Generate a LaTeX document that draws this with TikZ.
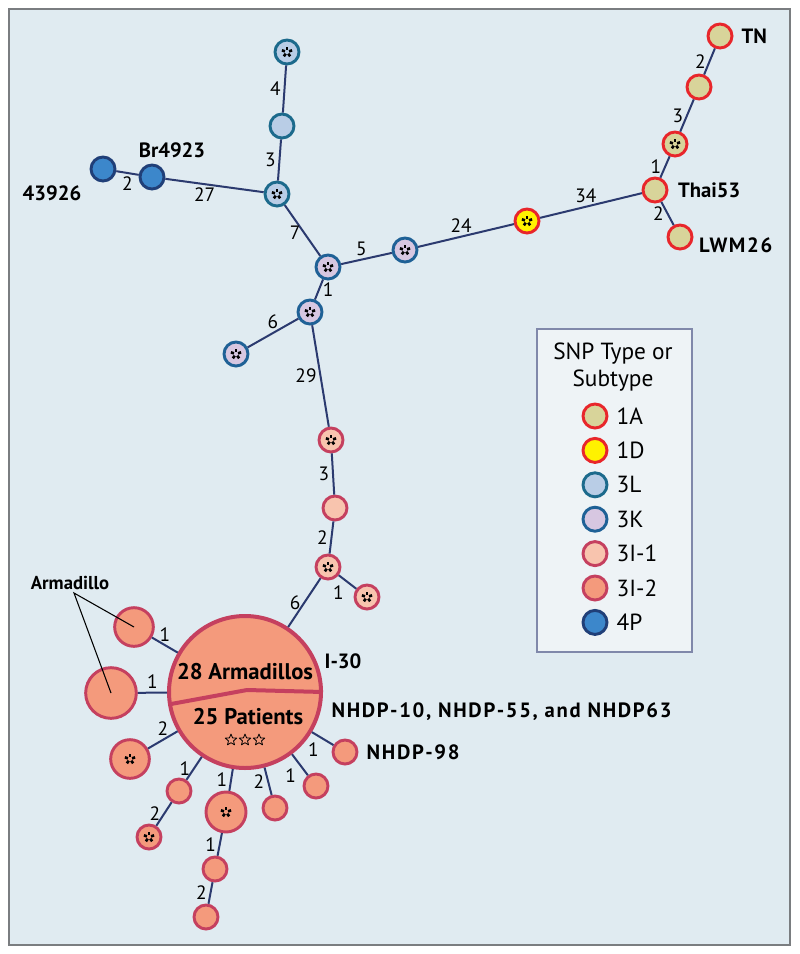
\documentclass[tikz,border=0pt]{standalone}
\usepackage{fontspec}
\setmainfont{PT Sans}
\usepackage{xcolor}
\usetikzlibrary{positioning}

\definecolor{bgblue}{HTML}{E0EBF1}
\definecolor{framegray}{HTML}{7A7D80}
\definecolor{linknavy}{HTML}{2B3A6F}
\definecolor{legfill}{HTML}{EEF3F6}
\definecolor{legline}{HTML}{8088AA}
\definecolor{oneAfill}{HTML}{D8D49A}
\definecolor{oneline}{HTML}{E8262B}
\definecolor{oneDfill}{HTML}{FFF200}
\definecolor{threeLfill}{HTML}{B9CDE6}
\definecolor{threeLline}{HTML}{1C6A8C}
\definecolor{threeKfill}{HTML}{D7C7E1}
\definecolor{threeKline}{HTML}{1F6196}
\definecolor{threeIline}{HTML}{C5405F}
\definecolor{threeIafill}{HTML}{F8C4AE}
\definecolor{threeIbfill}{HTML}{F49A7C}
\definecolor{fourPfill}{HTML}{3C87CB}
\definecolor{fourPline}{HTML}{203F78}

\tikzset{
    snp/.style={circle, draw, line width=2.2pt, inner sep=0pt, minimum size=18pt},
    t1A/.style={snp, fill=oneAfill, draw=oneline},
    t1D/.style={snp, fill=oneDfill, draw=oneline},
    t3L/.style={snp, fill=threeLfill, draw=threeLline},
    t3K/.style={snp, fill=threeKfill, draw=threeKline},
    t3Ia/.style={snp, fill=threeIafill, draw=threeIline},
    t3Ib/.style={snp, fill=threeIbfill, draw=threeIline},
    t4P/.style={snp, fill=fourPfill, draw=fourPline},
    flw/.style={path picture={
        \foreach \a in {18,90,162,234,306}
            \draw[black, line width=2pt]
                ([shift={(\a:1.6pt)}]path picture bounding box.center) --
                ([shift={(\a:4pt)}]path picture bounding box.center);}},
    patstar/.pic={
        \draw[black, line width=0.6pt, line join=round]
            (90:4.5pt) -- (126:2pt) -- (162:4.5pt) -- (198:2pt) -- (234:4.5pt) --
            (270:2pt) -- (306:4.5pt) -- (342:2pt) -- (18:4.5pt) -- (54:2pt) -- cycle;},
    link/.style={draw=linknavy, line width=1.5pt},
    lbl/.style={font=\fontsize{14.5}{15}\selectfont, inner sep=2.2pt},
    strain/.style={font=\fontsize{15.5}{17}\selectfont\bfseries, inner sep=1pt},
    widestrain/.style={strain, font=\fontsize{15.5}{17}\selectfont\bfseries\addfontfeature{LetterSpace=8}},
    hubtext/.style={font=\fontsize{17}{19}\selectfont\bfseries, inner sep=0pt},
    leglbl/.style={font=\fontsize{17.5}{20}\selectfont, inner sep=0pt},
    pointer/.style={draw=black, line width=0.8pt}
}

\begin{document}
\begin{tikzpicture}[x=0.75pt, y=-0.75pt]
    \useasboundingbox (0,0) rectangle (800,954);
    \fill[white] (0,0) rectangle (800,954);
    \fill[bgblue] (9,9) rectangle (790,945);
    \draw[framegray, line width=1.5pt] (9,9) rectangle (790,945);

    % type 4P and 3L
    \node[t4P] (p43926) at (103,169) {};
    \node[t4P] (br) at (152,177) {};
    \node[t3L, flw] (l1) at (287,52) {};
    \node[t3L] (l2) at (282,126) {};
    \node[t3L, flw] (l3) at (277,194) {};
    % type 3K
    \node[t3K, flw] (k1) at (328,267) {};
    \node[t3K, flw] (k2) at (405,250) {};
    \node[t3K, flw] (k3) at (310,312) {};
    \node[t3K, flw] (k4) at (236,354) {};
    % type 1D and 1A
    \node[t1D, flw] (d1) at (527,221) {};
    \node[t1A] (thai) at (655,190) {};
    \node[t1A, flw] (a1) at (675,144) {};
    \node[t1A] (a2) at (699,87) {};
    \node[t1A] (tn) at (720,36) {};
    \node[t1A] (lwm) at (680,237) {};
    % type 3I-1
    \node[t3Ia, flw] (i1) at (331,440) {};
    \node[t3Ia] (i2) at (335,508) {};
    \node[t3Ia, flw] (i3) at (328,567) {};
    \node[t3Ia, flw] (i4) at (367,597) {};
    % type 3I-2
    \node[t3Ib, minimum size=114pt, line width=3pt] (hub) at (245,692) {};
    \node[t3Ib, minimum size=29pt] (arm1) at (134,627) {};
    \node[t3Ib, minimum size=38pt] (arm2) at (111,693) {};
    \node[t3Ib, flw, minimum size=29pt] (c3) at (130,759) {};
    \node[t3Ib] (c4) at (179,791) {};
    \node[t3Ib, flw] (c5) at (149,837) {};
    \node[t3Ib, flw, minimum size=30pt] (c6) at (226,812) {};
    \node[t3Ib] (c7) at (215,869) {};
    \node[t3Ib] (c8) at (206,917) {};
    \node[t3Ib] (c9) at (275,808) {};
    \node[t3Ib] (c10) at (316,786) {};
    \node[t3Ib] (n98) at (345,752) {};

    \draw[link]
    (p43926) edge node[lbl, below] {2} (br)
    (br) edge node[lbl, below, pos=.4] {27} (l3)
    (l1) edge node[lbl, left] {4} (l2)
    (l2) edge node[lbl, left] {3} (l3)
    (l3) edge node[lbl, left, pos=.55] {7} (k1)
    (k1) edge node[lbl, above, pos=.4] {5} (k2)
    (k1) edge node[lbl, right] {1} (k3)
    (k2) edge node[lbl, above, pos=.45] {24} (d1)
    (d1) edge node[lbl, above, pos=.45] {34} (thai)
    (thai) edge node[lbl, left] {1} (a1)
    (a1) edge node[lbl, left] {3} (a2)
    (a2) edge node[lbl, left] {2} (tn)
    (thai) edge node[lbl, left] {2} (lwm)
    (k3) edge node[lbl, above] {6} (k4)
    (k3) edge node[lbl, left] {29} (i1)
    (i1) edge node[lbl, left] {3} (i2)
    (i2) edge node[lbl, left] {2} (i3)
    (i3) edge node[lbl, left] {6} (hub)
    (i3) edge node[lbl, below left] {1} (i4)
    (hub) edge node[lbl, above] {1} (arm1)
    (hub) edge node[lbl, above] {1} (arm2)
    (hub) edge node[lbl, above] {2} (c3)
    (hub) edge node[lbl, left] {1} (c4)
    (c4) edge node[lbl, left] {2} (c5)
    (hub) edge node[lbl, left] {1} (c6)
    (c6) edge node[lbl, left] {1} (c7)
    (c7) edge node[lbl, left] {2} (c8)
    (hub) edge node[lbl, left] {2} (c9)
    (hub) edge node[lbl, below left] {1} (c10)
    (hub) edge node[lbl, below left] {1} (n98);

    % the big I-30 circle
    \draw[draw=threeIline, line width=3pt]
        ([shift={(-74,12)}]hub.center) -- ([shift={(2,-2)}]hub.center) -- (hub.east);
    \node[hubtext] (armtxt) at (245,672) {28 Armadillos};
    \node[hubtext] (pattxt) at (248,717) {25 Patients};
    \pic at (231,740) {patstar};
    \pic at (245,740) {patstar};
    \pic at (259,740) {patstar};

    % strain names
    \node[strain] (brlbl) at (172,150) {Br4923};
    \node[strain] (lbl43926) at (52,193) {43926};
    \node[strain, right=5pt of tn] (tnlbl) {TN};
    \node[strain, right=6pt of thai] (thailbl) {Thai53};
    \node[widestrain, right=3pt of lwm, yshift=-6pt] (lwmlbl) {LWM26};
    \node[strain] (i30lbl) at (343,661) {I-30};
    \node[widestrain, anchor=west] (nhdplbl) at (330,712) {NHDP-10, NHDP-55, and NHDP63};
    \node[widestrain, right=5pt of n98] (n98lbl) {NHDP-98};
    \node[strain, font=\fontsize{14}{15}\selectfont\bfseries] (armlbl) at (70,583) {Armadillo};
    \coordinate (armtip) at (74,593);
    \draw[pointer] (arm1.center) -- (armtip) -- (arm2.center);

    % legend
    \node[draw=legline, fill=legfill, line width=1.2pt, minimum width=116pt,
        minimum height=242pt, inner sep=0pt] (legend) at (614.5,490.5) {};
    \node[leglbl, align=center] (legtitle) at (613,367) {SNP Type or\\Subtype};
    \foreach \t/\s [count=\i from 0] in {1A/t1A, 1D/t1D, 3L/t3L, 3K/t3K, 3I-1/t3Ia, 3I-2/t3Ib, 4P/t4P}{
        \node[\s] (key\i) at (595, 416+34.4*\i) {};
        \node[leglbl, right=6pt of key\i] (keylbl\i) {\t};
    }
\end{tikzpicture}
\end{document}
